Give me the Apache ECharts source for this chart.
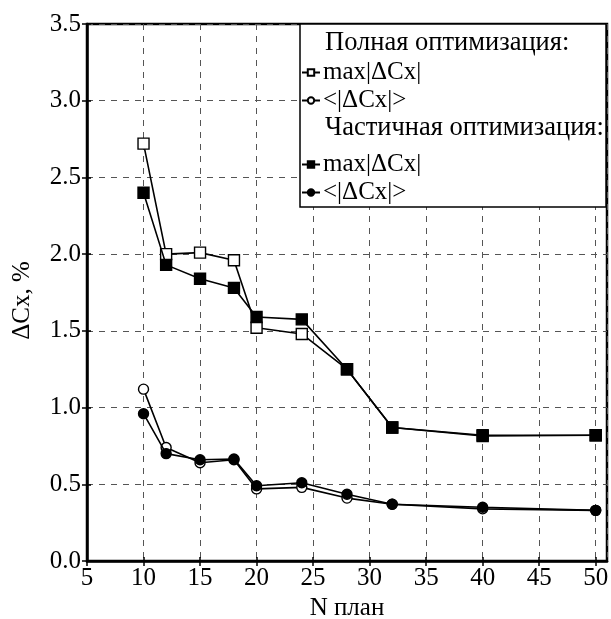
<!DOCTYPE html>
<html>
<head>
<meta charset="utf-8">
<script src="https://cdn.jsdelivr.net/npm/echarts@6/dist/echarts.min.js"></script>
<style>
  html, body { margin: 0; padding: 0; background: #fff; }
  #chart { width: 611px; height: 619px; }
</style>
</head>
<body>
<div id="chart"></div>
<script>
// Number of planning points
const nPlan = [10, 12, 15, 18, 20, 24, 28, 32, 40, 50];

// Full optimisation
const fullMax  = [2.72, 2.00, 2.01, 1.96, 1.52, 1.48, 1.25, 0.87, 0.82, 0.82];
const fullMean = [1.12, 0.74, 0.64, 0.66, 0.47, 0.48, 0.41, 0.37, 0.34, 0.33];

// Partial optimisation
const partMax  = [2.40, 1.93, 1.84, 1.78, 1.59, 1.575, 1.25, 0.87, 0.815, 0.82];
const partMean = [0.96, 0.70, 0.66, 0.665, 0.49, 0.51, 0.435, 0.37, 0.35, 0.33];

const FONT = 'Liberation Serif';
const FS = 25;
const HEAD_FS = 26.5;
const legendLabels = {
  'full-max': 'max|ΔCx|',
  'full-mean': '<|ΔCx|>',
  'part-max': 'max|ΔCx|',
  'part-mean': '<|ΔCx|>'
};

function pairs(ys) { return nPlan.map((x, i) => [x, ys[i]]); }

function lineSeries(id, ys, symbol, filled, size) {
  return {
    name: id,
    type: 'line',
    data: pairs(ys),
    symbol: symbol,
    symbolSize: size,
    showAllSymbol: true,
    lineStyle: { color: '#000', width: 1.6 },
    itemStyle: { color: filled ? '#000' : '#fff', borderColor: '#000', borderWidth: 1.4 },
    emphasis: { disabled: true },
    z: filled ? 4 : 3
  };
}

const chart = echarts.init(document.getElementById('chart'), null, { renderer: 'canvas' });

const legendCommon = {
  orient: 'vertical',
  left: 301,
  padding: 0,
  z: 10,
  itemWidth: 18,
  itemHeight: 8,
  itemGap: 3,
  selectedMode: false,
  formatter: name => legendLabels[name],
  textStyle: { fontFamily: FONT, fontSize: FS, color: '#000', padding: [0, 0, 0, -2] }
};

chart.setOption({
  animation: false,
  backgroundColor: '#fff',
  textStyle: { fontFamily: FONT },
  grid: {
    left: 87, right: 4, top: 24, bottom: 58,
    outerBoundsMode: 'none', containLabel: false,
    show: true, borderColor: '#000', borderWidth: 2.5, backgroundColor: 'transparent'
  },
  xAxis: [{
    type: 'value', min: 5, max: 51, interval: 5,
    name: 'N план', nameLocation: 'middle', nameGap: 35,
    nameTextStyle: { fontFamily: FONT, fontSize: FS, color: '#000' },
    axisLine: { lineStyle: { color: '#000', width: 2.5 } },
    axisTick: { show: true, length: 5, lineStyle: { color: '#000', width: 1.5 } },
    axisLabel: { showMaxLabel: false, fontFamily: FONT, fontSize: FS, color: '#000', margin: 5 },
    splitLine: { show: true, lineStyle: { color: '#555', width: 1, type: [6, 6] } }
  }, {
    type: 'value', min: 5, max: 51, interval: 5, position: 'bottom',
    axisLine: { show: false },
    axisTick: { show: true, inside: true, length: 4, lineStyle: { color: '#000', width: 1.5 } },
    axisLabel: { show: false },
    splitLine: { show: false }
  }],
  yAxis: [{
    type: 'value', min: 0, max: 3.5, interval: 0.5,
    name: 'ΔCx, %', nameLocation: 'middle', nameGap: 52,
    nameTextStyle: { fontFamily: FONT, fontSize: FS, color: '#000', padding: [0, 16, 0, 0] },
    axisLine: { show: true, lineStyle: { color: '#000', width: 2.5 } },
    axisTick: { show: true, length: 5, lineStyle: { color: '#000', width: 1.5 } },
    axisLabel: { fontFamily: FONT, fontSize: FS, color: '#000', margin: 6, formatter: v => v.toFixed(1) },
    splitLine: { show: true, lineStyle: { color: '#555', width: 1, type: [6, 6] } }
  }, {
    type: 'value', min: 0, max: 3.5, interval: 0.5, position: 'left',
    axisLine: { show: false },
    axisTick: { show: true, inside: true, length: 4, lineStyle: { color: '#000', width: 1.5 } },
    axisLabel: { show: false },
    splitLine: { show: false }
  }],
  legend: [
    Object.assign({ top: 60, data: ['full-max', 'full-mean'] }, legendCommon),
    Object.assign({ top: 152, data: ['part-max', 'part-mean'] }, legendCommon)
  ],
  graphic: [
    {
      type: 'rect', z: 5, silent: true,
      shape: { x: 300, y: 24, width: 306, height: 183 },
      style: { fill: '#fff', stroke: '#000', lineWidth: 1.5 }
    },
    {
      type: 'text', z: 6, left: 325, top: 30,
      style: { text: 'Полная оптимизация:', font: HEAD_FS + 'px "Liberation Serif"', fill: '#000' }
    },
    {
      type: 'text', z: 6, left: 325, top: 115,
      style: { text: 'Частичная оптимизация:', font: HEAD_FS + 'px "Liberation Serif"', fill: '#000' }
    }
  ],
  series: [
    lineSeries('full-max', fullMax, 'rect', false, 11),
    lineSeries('full-mean', fullMean, 'circle', false, 10),
    lineSeries('part-max', partMax, 'rect', true, 11),
    lineSeries('part-mean', partMean, 'circle', true, 10)
  ]
});
</script>
</body>
</html>
